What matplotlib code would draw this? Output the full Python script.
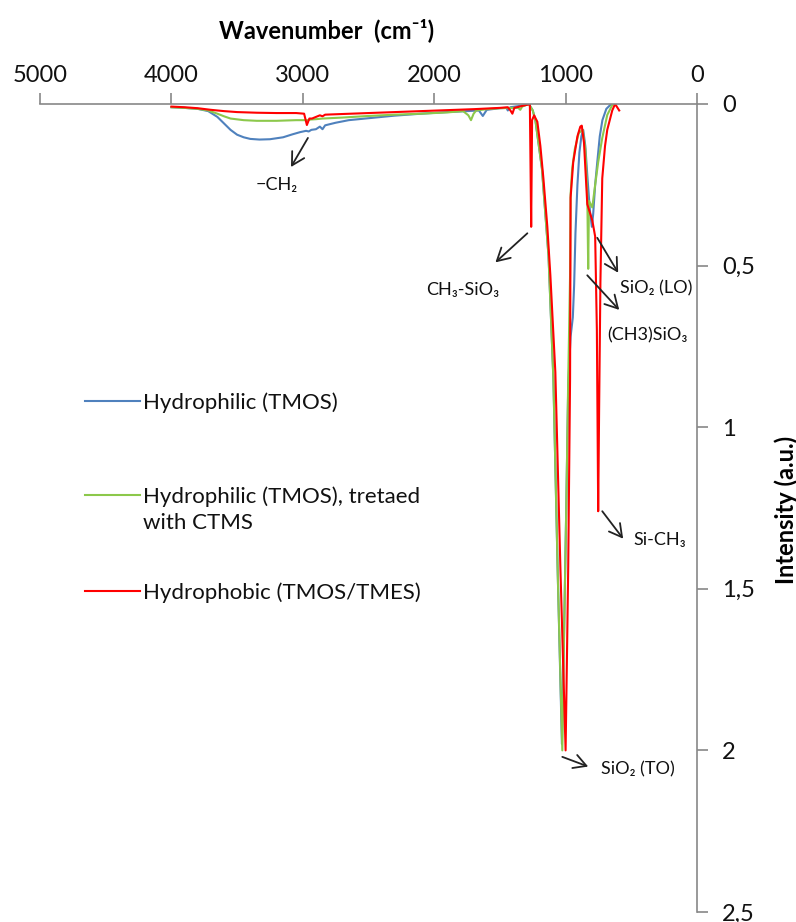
import matplotlib
matplotlib.use('Agg')
import matplotlib.pyplot as plt
from matplotlib.lines import Line2D
import numpy as np

plt.rcParams['font.family'] = ['Lato', 'DejaVu Sans']

# FTIR spectra, normalised intensity (a.u.) vs wavenumber (cm-1)
blue_wn = [4000, 3900, 3800, 3720, 3650, 3600, 3550, 3500, 3450, 3400, 3330, 3250,
           3150, 3080, 3020, 2975, 2955, 2935, 2900, 2870, 2850, 2830, 2750, 2650,
           2500, 2300, 2100, 1900, 1750, 1660, 1630, 1600, 1500, 1450, 1440, 1420,
           1350, 1300, 1280, 1250, 1230, 1180, 1130, 1093, 1060, 1028, 1010,
           995, 980, 962, 945, 935, 925, 910, 895, 880, 866, 850, 835, 815, 800,
           790, 775, 759, 740, 720, 690, 660, 640]
blue_int = [0.010, 0.012, 0.015, 0.022, 0.040, 0.060, 0.080, 0.095, 0.103, 0.108, 0.110, 0.109,
            0.103, 0.094, 0.087, 0.083, 0.085, 0.080, 0.078, 0.070, 0.078, 0.066, 0.058, 0.050,
            0.044, 0.036, 0.030, 0.025, 0.022, 0.020, 0.037, 0.018, 0.013, 0.012, 0.020, 0.010,
            0.006, 0.003, 0.000, 0.020, 0.050, 0.200, 0.470, 0.850, 1.450, 1.980, 1.600,
            1.250, 0.870, 0.720, 0.660, 0.560, 0.400, 0.250, 0.150, 0.100, 0.080, 0.130, 0.220,
            0.330, 0.380, 0.340, 0.250, 0.180, 0.100, 0.050, 0.015, 0.003, 0.000]

green_wn = [4000, 3900, 3800, 3720, 3650, 3600, 3550, 3450, 3350, 3200, 3050, 2960,
            2940, 2900, 2850, 2700, 2500, 2300, 2100, 1900, 1780, 1740, 1720, 1700,
            1680, 1600, 1500, 1400, 1360, 1345, 1330, 1300, 1280, 1250, 1230, 1180,
            1130, 1093, 1060, 1025, 1010, 995, 980, 966, 962, 950, 930, 900, 870,
            850, 835, 828, 822, 797, 775, 752, 721, 683, 645, 630]
green_int = [0.010, 0.012, 0.015, 0.020, 0.030, 0.038, 0.045, 0.050, 0.052, 0.052, 0.050, 0.050,
             0.048, 0.047, 0.045, 0.042, 0.037, 0.033, 0.030, 0.026, 0.022, 0.035, 0.050, 0.030,
             0.020, 0.016, 0.013, 0.012, 0.012, 0.018, 0.008, 0.003, 0.000, 0.020, 0.050, 0.200,
             0.470, 0.850, 1.450, 2.000, 1.600, 1.250, 0.850, 0.530, 0.280, 0.200, 0.140, 0.090, 0.080,
             0.140, 0.280, 0.510, 0.300, 0.320, 0.250, 0.180, 0.105, 0.034, 0.003, 0.000]

red_wn = [4000, 3900, 3800, 3700, 3600, 3500, 3350, 3200, 3050, 2990, 2969, 2950,
          2930, 2900, 2870, 2850, 2830, 2700, 2500, 2300, 2100, 1900, 1700, 1500,
          1440, 1420, 1405, 1390, 1330, 1290, 1272, 1262, 1255, 1240, 1215, 1192,
          1169, 1139, 1116, 1078, 1040, 1000, 990, 980, 966, 962, 942, 910, 888,
          877, 860, 835, 797, 775, 762, 752, 745, 735, 721, 700, 683, 645, 623, 592]
red_int = [0.008, 0.010, 0.013, 0.018, 0.022, 0.025, 0.027, 0.028, 0.028, 0.030, 0.065, 0.045,
           0.045, 0.040, 0.035, 0.038, 0.033, 0.031, 0.028, 0.025, 0.022, 0.019, 0.016, 0.012,
           0.010, 0.020, 0.030, 0.012, 0.006, 0.002, 0.000, 0.380, 0.050, 0.035, 0.055, 0.130,
           0.230, 0.380, 0.530, 0.830, 1.430, 2.000, 1.720, 1.430, 0.850, 0.290, 0.180, 0.100, 0.070,
           0.067, 0.120, 0.310, 0.360, 0.410, 0.700, 1.260, 0.950, 0.550, 0.230, 0.130, 0.080, 0.020,
           0.000, 0.020]

series_labels = ['Hydrophilic (TMOS)',
                 'Hydrophilic (TMOS), tretaed\nwith CTMS',
                 'Hydrophobic (TMOS/TMES)']
series_colors = ['#4F81BD', '#8CC84B', '#FF0000']

x_ticks = [5000, 4000, 3000, 2000, 1000, 0]
y_ticks = [0, 0.5, 1, 1.5, 2, 2.5]
y_tick_labels = ['0', '0,5', '1', '1,5', '2', '2,5']

# band assignments: label, arrow tail, arrow tip, label anchor, alignment
bands = [
    ('\u2212CH\u2082', (2961, 0.105), (3090, 0.195), (3197, 0.25), 'center'),
    ('CH\u2083-SiO\u2083', (1291, 0.40), (1534, 0.49), (1784, 0.575), 'center'),
    ('SiO\u2082 (LO)', (759, 0.414), (600, 0.522), (585, 0.569), 'left'),
    ('(CH3)SiO\u2083', (835, 0.53), (592, 0.637), (683, 0.717), 'left'),
    ('Si-CH\u2083', (721, 1.26), (562, 1.345), (486, 1.348), 'left'),
    ('SiO\u2082 (TO)', (1025, 2.02), (828, 2.05), (729, 2.059), 'left'),
]

W, H = 796, 922
fig = plt.figure(figsize=(W / 100, H / 100), dpi=100)
ax = fig.add_axes([40 / W, 1 - 912 / H, (697 - 40) / W, (912 - 104) / H])

for wn, inten, c in zip([blue_wn, green_wn, red_wn], [blue_int, green_int, red_int], series_colors):
    ax.plot(wn, inten, color=c, lw=1.5, solid_joinstyle='round')

ax.set_xlim(5000, 0)
ax.set_ylim(2.5, 0)
ax.set_xticks(x_ticks)
ax.set_yticks(y_ticks)
ax.set_yticklabels(y_tick_labels)

for s in ['left', 'bottom']:
    ax.spines[s].set_visible(False)
for s in ['top', 'right']:
    ax.spines[s].set_color('#878787')
    ax.spines[s].set_linewidth(1.2)
ax.xaxis.tick_top()
ax.yaxis.tick_right()
ax.tick_params(axis='both', direction='out', length=8, width=1.2, color='#878787',
               labelsize=17, labelcolor='#111111')
ax.tick_params(axis='x', pad=5)
ax.tick_params(axis='y', pad=10)

fig.text(327 / W, 1 - 30 / H, 'Wavenumber  (cm\u207b\u00b9)', ha='center', va='center',
         fontsize=17, fontweight='bold')
fig.text(786 / W, 1 - 510 / H, 'Intensity (a.u.)', ha='center', va='center',
         rotation=90, fontsize=17, fontweight='bold')

for label, tail, tip, pos, ha in bands:
    ax.annotate('', xy=tip, xytext=tail,
                arrowprops=dict(arrowstyle='->,head_length=0.45,head_width=0.25',
                                mutation_scale=20, lw=1.3, color='#222222',
                                shrinkA=0, shrinkB=0))
    ax.text(pos[0], pos[1], label, ha=ha, va='center', fontsize=13, color='#111111')

# legend entries drawn by hand so the spacing stays even
legend_y = [401, 495, 591]
for label, c, y in zip(series_labels, series_colors, legend_y):
    fig.add_artist(Line2D([85 / W, 140 / W], [1 - y / H, 1 - y / H], color=c, lw=1.5,
                          transform=fig.transFigure))
    for k, line in enumerate(label.split('\n')):
        fig.text(143 / W, 1 - (y + 26 * k) / H, line, ha='left', va='center_baseline',
                 fontsize=16, color='#111111')

fig.savefig('out.png', dpi=100)
